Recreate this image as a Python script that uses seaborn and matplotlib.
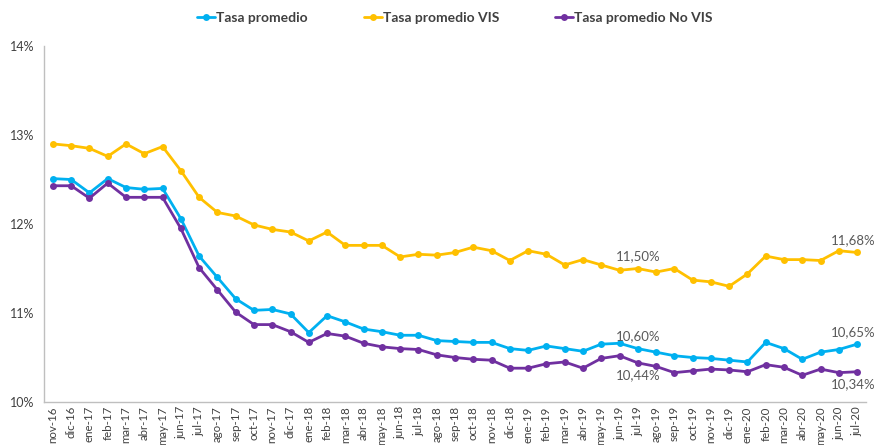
import numpy as np
import pandas as pd
import matplotlib
matplotlib.use('Agg')
import matplotlib.pyplot as plt
import seaborn as sns

# months on the x axis
meses = ['nov-16', 'dic-16',
         'ene-17', 'feb-17', 'mar-17', 'abr-17', 'may-17', 'jun-17',
         'jul-17', 'ago-17', 'sep-17', 'oct-17', 'nov-17', 'dic-17',
         'ene-18', 'feb-18', 'mar-18', 'abr-18', 'may-18', 'jun-18',
         'jul-18', 'ago-18', 'sep-18', 'oct-18', 'nov-18', 'dic-18',
         'ene-19', 'feb-19', 'mar-19', 'abr-19', 'may-19', 'jun-19',
         'jul-19', 'ago-19', 'sep-19', 'oct-19', 'nov-19', 'dic-19',
         'ene-20', 'feb-20', 'mar-20', 'abr-20', 'may-20', 'jun-20', 'jul-20']

# rates in percent
tasa_promedio = [12.51, 12.50, 12.35, 12.51, 12.41, 12.39, 12.40, 12.06, 11.64, 11.40,
                 11.16, 11.03, 11.04, 10.99, 10.78, 10.97, 10.90, 10.82, 10.79, 10.75,
                 10.75, 10.69, 10.68, 10.67, 10.67, 10.60, 10.58, 10.63, 10.60, 10.57,
                 10.65, 10.66, 10.60, 10.56, 10.52, 10.50, 10.49, 10.47, 10.45, 10.67,
                 10.60, 10.48, 10.56, 10.59, 10.65]
tasa_vis = [12.90, 12.88, 12.85, 12.76, 12.90, 12.79, 12.87, 12.60, 12.30, 12.13,
            12.09, 11.99, 11.94, 11.91, 11.81, 11.91, 11.76, 11.76, 11.76, 11.63,
            11.66, 11.65, 11.68, 11.74, 11.70, 11.59, 11.70, 11.66, 11.54, 11.60,
            11.54, 11.48, 11.50, 11.46, 11.50, 11.37, 11.35, 11.30, 11.44, 11.64,
            11.60, 11.60, 11.59, 11.70, 11.68]
tasa_no_vis = [12.43, 12.43, 12.29, 12.46, 12.30, 12.30, 12.30, 11.95, 11.51, 11.26,
               11.01, 10.87, 10.87, 10.79, 10.67, 10.77, 10.74, 10.66, 10.62, 10.60,
               10.59, 10.53, 10.50, 10.48, 10.47, 10.38, 10.38, 10.43, 10.45, 10.38,
               10.49, 10.52, 10.44, 10.40, 10.33, 10.35, 10.37, 10.36, 10.34, 10.42,
               10.39, 10.30, 10.37, 10.33, 10.34]

series = ['Tasa promedio', 'Tasa promedio VIS', 'Tasa promedio No VIS']
colores = ['#00B0F0', '#FFC000', '#7030A0']

df = pd.DataFrame({'idx': np.arange(len(meses)),
                   'Tasa promedio': tasa_promedio,
                   'Tasa promedio VIS': tasa_vis,
                   'Tasa promedio No VIS': tasa_no_vis})
df_long = df.melt(id_vars='idx', var_name='serie', value_name='tasa')

sns.set_style('white')
plt.rcParams['font.family'] = ['Lato', 'DejaVu Sans']

fig = plt.figure(figsize=(8.75, 4.45), dpi=100)
ax = fig.add_axes([0.05, 0.0966, 0.94, 0.8])

sns.lineplot(data=df_long, x='idx', y='tasa', hue='serie', hue_order=series,
             palette=colores, marker='o', markersize=5, markeredgewidth=0,
             linewidth=2, ax=ax)

ax.set_xlim(-0.5, len(meses) - 0.5)
ax.set_ylim(10, 14)
ax.set_yticks([10, 11, 12, 13, 14])
ax.set_yticklabels(['10%', '11%', '12%', '13%', '14%'], fontsize=9, color='#404040')
ax.set_xticks(np.arange(len(meses)))
ax.set_xticklabels(meses, rotation=90, fontsize=8.3, color='#404040')
ax.set_xticks(np.arange(len(meses) + 1) - 0.5, minor=True)
ax.tick_params(axis='x', which='major', length=0, pad=3)
ax.tick_params(axis='x', which='minor', length=6, color='#BFBFBF', width=1)
ax.tick_params(axis='y', length=0, pad=7)
ax.set_xlabel('')
ax.set_ylabel('')

for s in ['top', 'right']:
    ax.spines[s].set_visible(False)
for s in ['left', 'bottom']:
    ax.spines[s].set_color('#BFBFBF')
    ax.spines[s].set_linewidth(1)

# value labels
lbl = dict(fontsize=9.5, color='#595959', ha='center')
j = meses.index('jul-19')
n = len(meses) - 1
ax.text(j, tasa_vis[j] + 0.07, '11,50%', va='bottom', **lbl)
ax.text(j, tasa_promedio[j] + 0.07, '10,60%', va='bottom', **lbl)
ax.text(j, tasa_no_vis[j] - 0.07, '10,44%', va='top', **lbl)
ax.text(n - 0.2, tasa_vis[n] + 0.07, '11,68%', va='bottom', **lbl)
ax.text(n - 0.2, tasa_promedio[n] + 0.07, '10,65%', va='bottom', **lbl)
ax.text(n - 0.2, tasa_no_vis[n] - 0.07, '10,34%', va='top', **lbl)

handles, labels = ax.get_legend_handles_labels()
ax.legend(handles, labels, loc='center', bbox_to_anchor=(0.5, 1.079), ncol=3,
          frameon=False, handlelength=1.3, handletextpad=0.1,
          columnspacing=4, prop={'weight': 'bold', 'size': 10})
for t in ax.get_legend().get_texts():
    t.set_color('#404040')

fig.savefig('out.png', dpi=100)
